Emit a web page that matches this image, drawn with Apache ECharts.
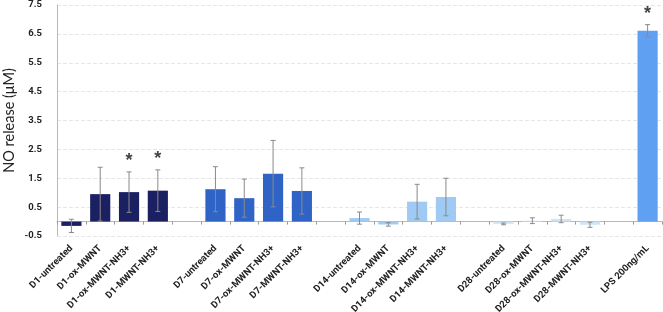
<!DOCTYPE html>
<html><head><meta charset="utf-8">
<script src="https://cdn.jsdelivr.net/npm/echarts@6/dist/echarts.min.js"></script>
<style>html,body{margin:0;padding:0;background:#fff}#c{width:663px;height:312px}</style>
</head><body><div id="c"></div>
<script>
var categories = ['D1-untreated','D1-ox-MWNT','D1-ox-MWNT-NH3+','D1-MWNT-NH3+','',
  'D7-untreated','D7-ox-MWNT','D7-ox-MWNT-NH3+','D7-MWNT-NH3+','',
  'D14-untreated','D14-ox-MWNT','D14-ox-MWNT-NH3+','D14-MWNT-NH3+','',
  'D28-untreated','D28-ox-MWNT','D28-ox-MWNT-NH3+','D28-MWNT-NH3+','',
  'LPS 200ng/mL'];
var values = [-0.15,0.95,1.02,1.07,null, 1.12,0.81,1.66,1.06,null, 0.12,-0.10,0.69,0.85,null, -0.08,0.03,0.09,-0.11,null, 6.61];
var errors = [0.23,0.93,0.70,0.72,null, 0.78,0.66,1.15,0.80,null, 0.21,0.06,0.60,0.65,null, 0.03,0.10,0.13,0.09,null, 0.21];
var groups = [0,0,0,0,null, 1,1,1,1,null, 2,2,2,2,null, 3,3,3,3,null, 4];
var significant = ['D1-ox-MWNT-NH3+','D1-MWNT-NH3+','LPS 200ng/mL'];
var yTickLabels = ['-0.5','0.5','1.5','2.5','3.5','4.5','5.5','6.5','7.5'];
var groupColors = ['#1b2063','#2f63c6','#9ecaf3','#cfe5f7','#5fa0f2'];

var barData = values.map(function(v,i){
  if (v === null) return '-';
  return {value: v, itemStyle: {color: groupColors[groups[i]]}};
});
var errData = [];
values.forEach(function(v,i){ if (v !== null) errData.push([i, v - errors[i], v + errors[i]]); });
var starData = [];
values.forEach(function(v,i){ if (significant.indexOf(categories[i]) >= 0) starData.push([i, v + errors[i]]); });

var chart = echarts.init(document.getElementById('c'));
chart.setOption({
  animation: false,
  grid: {left: 57, right: 1, top: 5, bottom: 76, containLabel: false, outerBoundsMode: 'none'},
  xAxis: {
    type: 'category', data: categories,
    axisLine: {onZero: true, lineStyle: {color: '#b8b8b8'}},
    axisTick: {show: true, interval: 0, length: 3, lineStyle: {color: '#999'}},
    axisLabel: {interval: 0, rotate: 45, margin: 11, fontSize: 9.5, color: '#222', fontWeight: 'bold', fontFamily: 'Roboto'}
  },
  yAxis: [{
    type: 'value', min: -0.5, max: 7.5,
    axisLabel: {show: false}, splitLine: {show: false},
    axisLine: {show: true, lineStyle: {color: '#b8b8b8'}}, axisTick: {show: false},
    name: 'NO release (μM)', nameLocation: 'middle', nameGap: 40,
    nameTextStyle: {fontSize: 14.5, color: '#222', fontFamily: 'Lato'}
  },{
    type: 'value', min: 0, max: 8, interval: 1, position: 'left',
    axisLine: {show: false}, axisTick: {show: false},
    axisLabel: {formatter: function(v){ return yTickLabels[Math.round(v)]; }, fontSize: 9.5, fontWeight: 'bold', color: '#222', margin: 15, fontFamily: 'Roboto'},
    splitLine: {show: true, lineStyle: {color: '#e6e6e6', type: 'dashed'}}
  }],
  series: [{
    type: 'bar', data: barData, barWidth: '70%', yAxisIndex: 0
  },{
    type: 'custom', yAxisIndex: 0, data: errData, z: 5,
    renderItem: function(params, api){
      var x = api.value(0);
      var lo = api.coord([x, api.value(1)]);
      var hi = api.coord([x, api.value(2)]);
      var s = 2.5, st = {stroke: '#8a8a8a', lineWidth: 1};
      return {type: 'group', children: [
        {type: 'line', shape: {x1: lo[0], y1: lo[1], x2: hi[0], y2: hi[1]}, style: st},
        {type: 'line', shape: {x1: lo[0]-s, y1: lo[1], x2: lo[0]+s, y2: lo[1]}, style: st},
        {type: 'line', shape: {x1: hi[0]-s, y1: hi[1], x2: hi[0]+s, y2: hi[1]}, style: st}
      ]};
    }
  },{
    type: 'scatter', yAxisIndex: 0, data: starData, symbolSize: 0, z: 6,
    label: {show: true, position: 'top', distance: 2, formatter: '*', fontSize: 18, fontWeight: 'bold', color: '#111', fontFamily: 'Liberation Sans'}
  }]
});
</script></body></html>
